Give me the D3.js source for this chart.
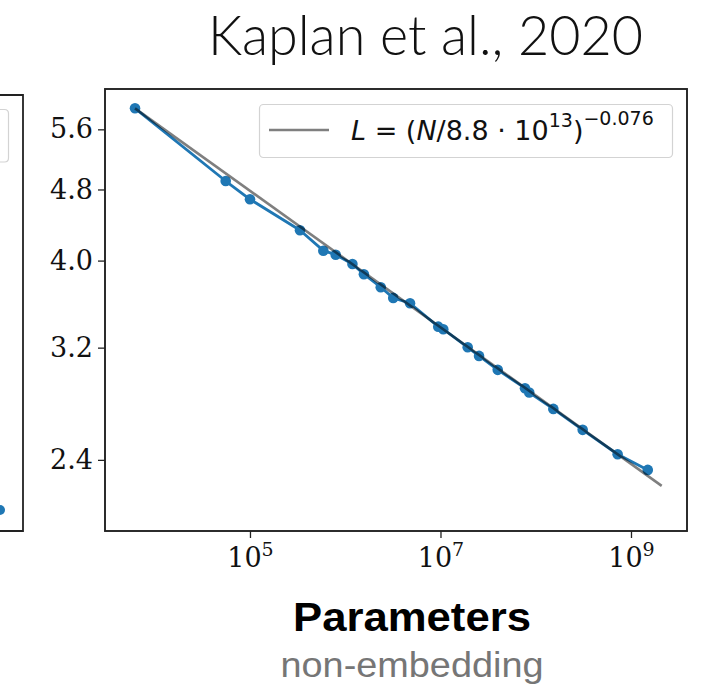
<!DOCTYPE html>
<html>
<head>
<meta charset="utf-8">
<script src="https://cdn.jsdelivr.net/npm/d3@7"></script>
<style>
  html, body { margin: 0; padding: 0; background: #fff; }
  svg { display: block; }
</style>
</head>
<body>
<svg id="chart" width="710" height="692"></svg>
<script>
// Non-embedding parameter count of each model
const params = [6.21e3, 5.56e4, 1.00e5, 3.35e5, 5.89e5, 7.94e5, 1.19e6, 1.57e6,
  2.36e6, 3.19e6, 4.79e6, 9.48e6, 1.07e7, 1.93e7, 2.54e7, 3.99e7, 7.71e7,
  8.55e7, 1.53e8, 3.11e8, 7.24e8, 1.50e9];
// Test loss reached by each model
const loss = [5.91, 4.905, 4.681, 4.323, 4.103, 4.061, 3.966, 3.863,
  3.736, 3.635, 3.586, 3.377, 3.355, 3.203, 3.133, 3.023, 2.884,
  2.852, 2.735, 2.592, 2.435, 2.339];
// Power-law fit L = (N / Nc)^(-alpha)
const fitNc = 8.8e13;
const fitAlpha = 0.076;
const fitRange = [6.21e3, 2.1e9];
// Axis ticks
const xTicks = [1e5, 1e7, 1e9];
const xTickExponents = ["5", "7", "9"];
const yTicks = [2.4, 3.2, 4.0, 4.8, 5.6];
// Neighbouring panel (cut off at the left edge)
const neighbourLoss = [2.12];

const svg = d3.select("#chart");
const frame = { left: 105, right: 687, top: 89, bottom: 531 };

const x = d3.scaleLog().domain([Math.pow(10, 3.478), Math.pow(10, 9.588)])
  .range([frame.left, frame.right]);
const y = d3.scaleLog().domain([2.0, 6.21]).range([frame.bottom, frame.top]);

const blue = "#1f77b4";
const serif = "'DejaVu Serif', serif";
const sans = "'DejaVu Sans', sans-serif";

// Title
svg.append("text")
  .attr("x", 208).attr("y", 55)
  .attr("textLength", 435).attr("lengthAdjust", "spacingAndGlyphs")
  .style("font-family", "Lato, 'Open Sans', sans-serif")
  .style("font-weight", 300)
  .style("font-size", "56px")
  .style("fill", "#111")
  .text("Kaplan et al., 2020");

// Neighbouring panel edge
const nb = svg.append("g");
nb.append("path")
  .attr("d", `M0,95 H23 V531 H0`)
  .attr("fill", "none").attr("stroke", "#222").attr("stroke-width", 1.8);
nb.append("path")
  .attr("d", `M0,109.5 H4.5 Q8.5,109.5 8.5,113.5 V158 Q8.5,162 4.5,162 H0`)
  .attr("fill", "#fff").attr("stroke", "#d3d3d3").attr("stroke-width", 1.2);
nb.selectAll("circle").data(neighbourLoss).join("circle")
  .attr("cx", 0).attr("cy", 510).attr("r", 5).attr("fill", blue);

// Plot area clip
svg.append("clipPath").attr("id", "plotClip")
  .append("rect")
  .attr("x", frame.left).attr("y", frame.top)
  .attr("width", frame.right - frame.left).attr("height", frame.bottom - frame.top);

const plot = svg.append("g").attr("clip-path", "url(#plotClip)");

const pts = params.map((n, i) => [n, loss[i]]);
const line = d3.line().x(d => x(d[0])).y(d => y(d[1]));

// Measured losses
plot.append("path")
  .datum(pts)
  .attr("d", line)
  .attr("fill", "none")
  .attr("stroke", blue)
  .attr("stroke-width", 2.8)
  .attr("stroke-linejoin", "round");
plot.selectAll("circle.pt").data(pts).join("circle")
  .attr("class", "pt")
  .attr("cx", d => x(d[0])).attr("cy", d => y(d[1]))
  .attr("r", 5.3).attr("fill", blue);

// Power-law fit
const fitPts = fitRange.map(n => [n, Math.pow(n / fitNc, -fitAlpha)]);
plot.append("path")
  .datum(fitPts)
  .attr("d", line)
  .attr("fill", "none")
  .attr("stroke", "#000")
  .attr("stroke-opacity", 0.5)
  .attr("stroke-width", 2.6);

// Frame
svg.append("rect")
  .attr("x", frame.left).attr("y", frame.top)
  .attr("width", frame.right - frame.left).attr("height", frame.bottom - frame.top)
  .attr("fill", "none").attr("stroke", "#222").attr("stroke-width", 1.9);

// Y axis
const yAxis = d3.axisLeft(y).tickValues(yTicks).tickFormat(d3.format(".1f"))
  .tickSize(7).tickPadding(5);
const gy = svg.append("g").attr("transform", `translate(${frame.left},0)`).call(yAxis);
gy.select(".domain").remove();
gy.selectAll(".tick line").attr("stroke", "#222").attr("stroke-width", 1.3);
gy.selectAll(".tick text")
  .style("font-family", serif).style("font-size", "27px").style("fill", "#111");

// X axis
const xAxis = d3.axisBottom(x).tickValues(xTicks).tickFormat(() => "")
  .tickSize(7).tickPadding(5);
const gx = svg.append("g").attr("transform", `translate(0,${frame.bottom})`).call(xAxis);
gx.select(".domain").remove();
gx.selectAll(".tick line").attr("stroke", "#222").attr("stroke-width", 1.3);
gx.selectAll(".tick text").each(function(d, i) {
  const t = d3.select(this)
    .attr("y", 36).attr("dy", null)
    .style("font-family", serif).style("font-size", "27px").style("fill", "#111");
  t.append("tspan").text("10");
  t.append("tspan").attr("dy", -11).style("font-size", "19px").text(xTickExponents[i]);
});

// Legend
const lg = svg.append("g");
lg.append("rect")
  .attr("x", 259.5).attr("y", 104.5).attr("width", 413).attr("height", 53)
  .attr("rx", 4).attr("fill", "#fff").attr("fill-opacity", 0.85)
  .attr("stroke", "#d3d3d3").attr("stroke-width", 1.2);
lg.append("line")
  .attr("x1", 269).attr("x2", 329).attr("y1", 130).attr("y2", 130)
  .attr("stroke", "#000").attr("stroke-opacity", 0.5).attr("stroke-width", 2.6);
const lt = lg.append("text")
  .attr("x", 351).attr("y", 140)
  .style("font-family", sans).style("font-size", "27px").style("fill", "#111");
lt.append("tspan").style("font-style", "italic").text("L");
lt.append("tspan").text(" = (");
lt.append("tspan").style("font-style", "italic").text("N");
lt.append("tspan").text("/8.8 \u00b7 10");
lt.append("tspan").attr("dy", -13).style("font-size", "19px").text("13");
lt.append("tspan").attr("dy", 13).text(")");
lt.append("tspan").attr("dy", -15).style("font-size", "19px").text("\u22120.076");

// Axis titles
svg.append("text")
  .attr("x", 412).attr("y", 631).attr("text-anchor", "middle")
  .attr("textLength", 238).attr("lengthAdjust", "spacingAndGlyphs")
  .style("font-family", "'Liberation Sans', Arial, sans-serif")
  .style("font-weight", 700).style("font-size", "40px").style("fill", "#000")
  .text("Parameters");
svg.append("text")
  .attr("x", 412).attr("y", 677).attr("text-anchor", "middle")
  .attr("textLength", 263).attr("lengthAdjust", "spacingAndGlyphs")
  .style("font-family", "'Liberation Sans', Arial, sans-serif")
  .style("font-size", "35px").style("fill", "#767676")
  .text("non-embedding");
</script>
</body>
</html>
